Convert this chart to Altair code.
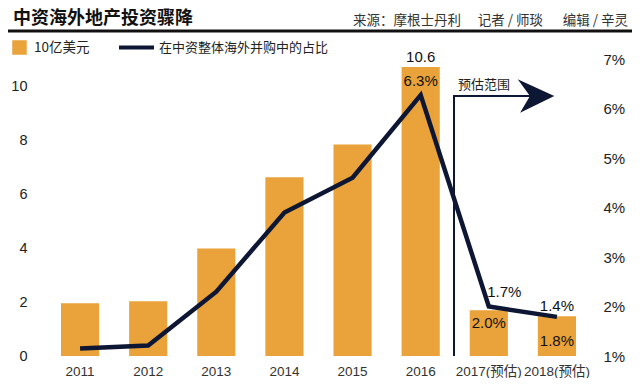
import altair as alt
import pandas as pd

# ---- data ----
years = ["2011", "2012", "2013", "2014", "2015", "2016", "2017(预估)", "2018(预估)"]
invest = [1.95, 2.03, 3.98, 6.62, 7.83, 10.7, 1.69, 1.47]       # 10亿美元 (left axis)
share = [1.15, 1.21, 2.30, 3.90, 4.60, 6.27, 2.00, 1.79]        # % (right axis)

left_ticks = [0, 2, 4, 6, 8, 10]
right_ticks = [1, 2, 3, 4, 5, 6, 7]

ann_years = ["2016", "2016", "2017(预估)", "2017(预估)", "2018(预估)", "2018(预估)"]
ann_texts = ["10.6", "6.3%", "1.7%", "2.0%", "1.4%", "1.8%"]

TITLE = "中资海外地产投资骤降"
SOURCE_PARTS = ["来源：摩根士丹利", "记者 / 师琰", "编辑 / 辛灵"]
BAR_NAME = "10亿美元"
LINE_NAME = "在中资整体海外并购中的占比"
FORECAST = "预估范围"

# ---- styles ----
FONT = "Liberation Sans, Noto Sans CJK SC, sans-serif"
CJK = "Noto Sans CJK SC"
ORANGE = "#EAA23A"
NAVY = "#0D1733"
W, H = 545, 297

df = pd.DataFrame({"year": years, "invest": invest, "share": share,
                   "bar_s": BAR_NAME, "line_s": LINE_NAME})
ann = pd.DataFrame({"year": ann_years, "label": ann_texts}).merge(
    df[["year", "invest", "share"]], on="year")

xscale = alt.Scale(domain=years, paddingInner=0.44, paddingOuter=0.22)
yL = alt.Scale(domain=[0, 11], nice=False, zero=True)
yR = alt.Scale(domain=[1, 7], nice=False, zero=False)

x_axis = alt.Axis(title=None, labelAngle=0, ticks=False, domain=False, grid=False,
                  labelPadding=8, labelFontSize=13.5, labelColor="#333", labelFont=FONT)
X = alt.X("year:N", scale=xscale, axis=x_axis)

bars = alt.Chart(df).mark_bar().encode(
    x=X,
    y=alt.Y("invest:Q", scale=yL,
            axis=alt.Axis(title=None, values=left_ticks, ticks=False, domain=False,
                          grid=False, labelPadding=19, labelFontSize=14.5,
                          labelColor="#222", labelFont=FONT)),
    fill=alt.Fill("bar_s:N", scale=alt.Scale(range=[ORANGE]),
                  legend=alt.Legend(title=None, orient="none", legendX=-34, legendY=-19,
                                    symbolType="square", symbolSize=210,
                                    symbolStrokeWidth=0, labelFontSize=13.5,
                                    labelFont=CJK, labelColor="#222", labelLimit=300,
                                    labelOffset=7, padding=0)),
)

line = alt.Chart(df).mark_line(strokeWidth=4.5).encode(
    x=X,
    y=alt.Y("share:Q", scale=yR,
            axis=alt.Axis(title=None, orient="right", values=right_ticks, ticks=False,
                          domain=False, grid=False, labelPadding=12, labelFontSize=15,
                          labelColor="#222", labelFont=FONT,
                          labelExpr="datum.value + '%'")),
    stroke=alt.Stroke("line_s:N", scale=alt.Scale(range=[NAVY]),
                      legend=alt.Legend(title=None, orient="none", legendX=71, legendY=-31,
                                        symbolType="stroke", symbolSize=1225,
                                        symbolStrokeWidth=4, labelFontSize=13,
                                        labelFont=CJK, labelColor="#222", labelLimit=400,
                                        labelOffset=3, padding=0)),
)


def label(i, field, scale, dy, dx=0):
    return alt.Chart(ann.iloc[[i]]).mark_text(
        font=FONT, fontSize=15, color="#111", baseline="middle", dy=dy, dx=dx
    ).encode(
        x=X,
        y=alt.Y(f"{field}:Q", scale=scale, axis=None),
        text="label:N",
    )


labels = [
    label(0, "invest", yL, -10.5),
    label(1, "invest", yL, 14),
    label(2, "share", yR, -14.7, 15.5),
    label(3, "share", yR, 16),
    label(4, "share", yR, -10.5),
    label(5, "share", yR, 24),
]

one = pd.DataFrame({"t": [FORECAST]})

# forecast bracket and arrow (annotation)
vrule = alt.Chart(one).mark_rule(color=NAVY, strokeWidth=2).encode(
    x=alt.value(408), y=alt.value(37), y2=alt.value(H))
hrule = alt.Chart(one).mark_rule(color=NAVY, strokeWidth=2).encode(
    x=alt.value(407), x2=alt.value(486), y=alt.value(37))
head = alt.Chart(one).mark_point(
    shape="M1,0 L-1,-0.91 L-0.33,0 L-0.87,0.91 Z", filled=True, color=NAVY,
    opacity=1, size=1340, strokeWidth=0
).encode(x=alt.value(490), y=alt.value(37))
ftext = alt.Chart(one).mark_text(font=CJK, fontSize=13, color="#222", align="left",
                                 baseline="middle").encode(
    x=alt.value(412), y=alt.value(26), text="t:N")

# header
head_df = pd.DataFrame({"title": [TITLE]})
title_txt = alt.Chart(head_df).mark_text(font=CJK, fontSize=18, fontWeight="bold",
                                         color="#111", align="left",
                                         baseline="middle").encode(
    x=alt.value(-33), y=alt.value(-40.5), text="title:N")

src_df = pd.DataFrame({"s": SOURCE_PARTS})
source_right = [415, 497, 582]
source_txt = [
    alt.Chart(src_df.iloc[[i]]).mark_text(font=CJK, fontSize=13.5, color="#333",
                                          align="right", baseline="middle").encode(
        x=alt.value(source_right[i]), y=alt.value(-38), text="s:N")
    for i in range(3)
]
head_rule = alt.Chart(head_df).mark_rule(color="#111", strokeWidth=3).encode(
    x=alt.value(-38), x2=alt.value(586), y=alt.value(-28))

chart = alt.layer(
    bars, line, *labels, vrule, hrule, head, ftext, title_txt, *source_txt, head_rule
).resolve_scale(y="independent").properties(
    width=W, height=H,
    padding={"left": 38, "top": 51, "right": 41, "bottom": 22},
    autosize=alt.AutoSizeParams(type="none"),
    background="white",
).configure_view(stroke=None)

chart.save("out.html", embed_options={"renderer": "svg", "actions": False})
